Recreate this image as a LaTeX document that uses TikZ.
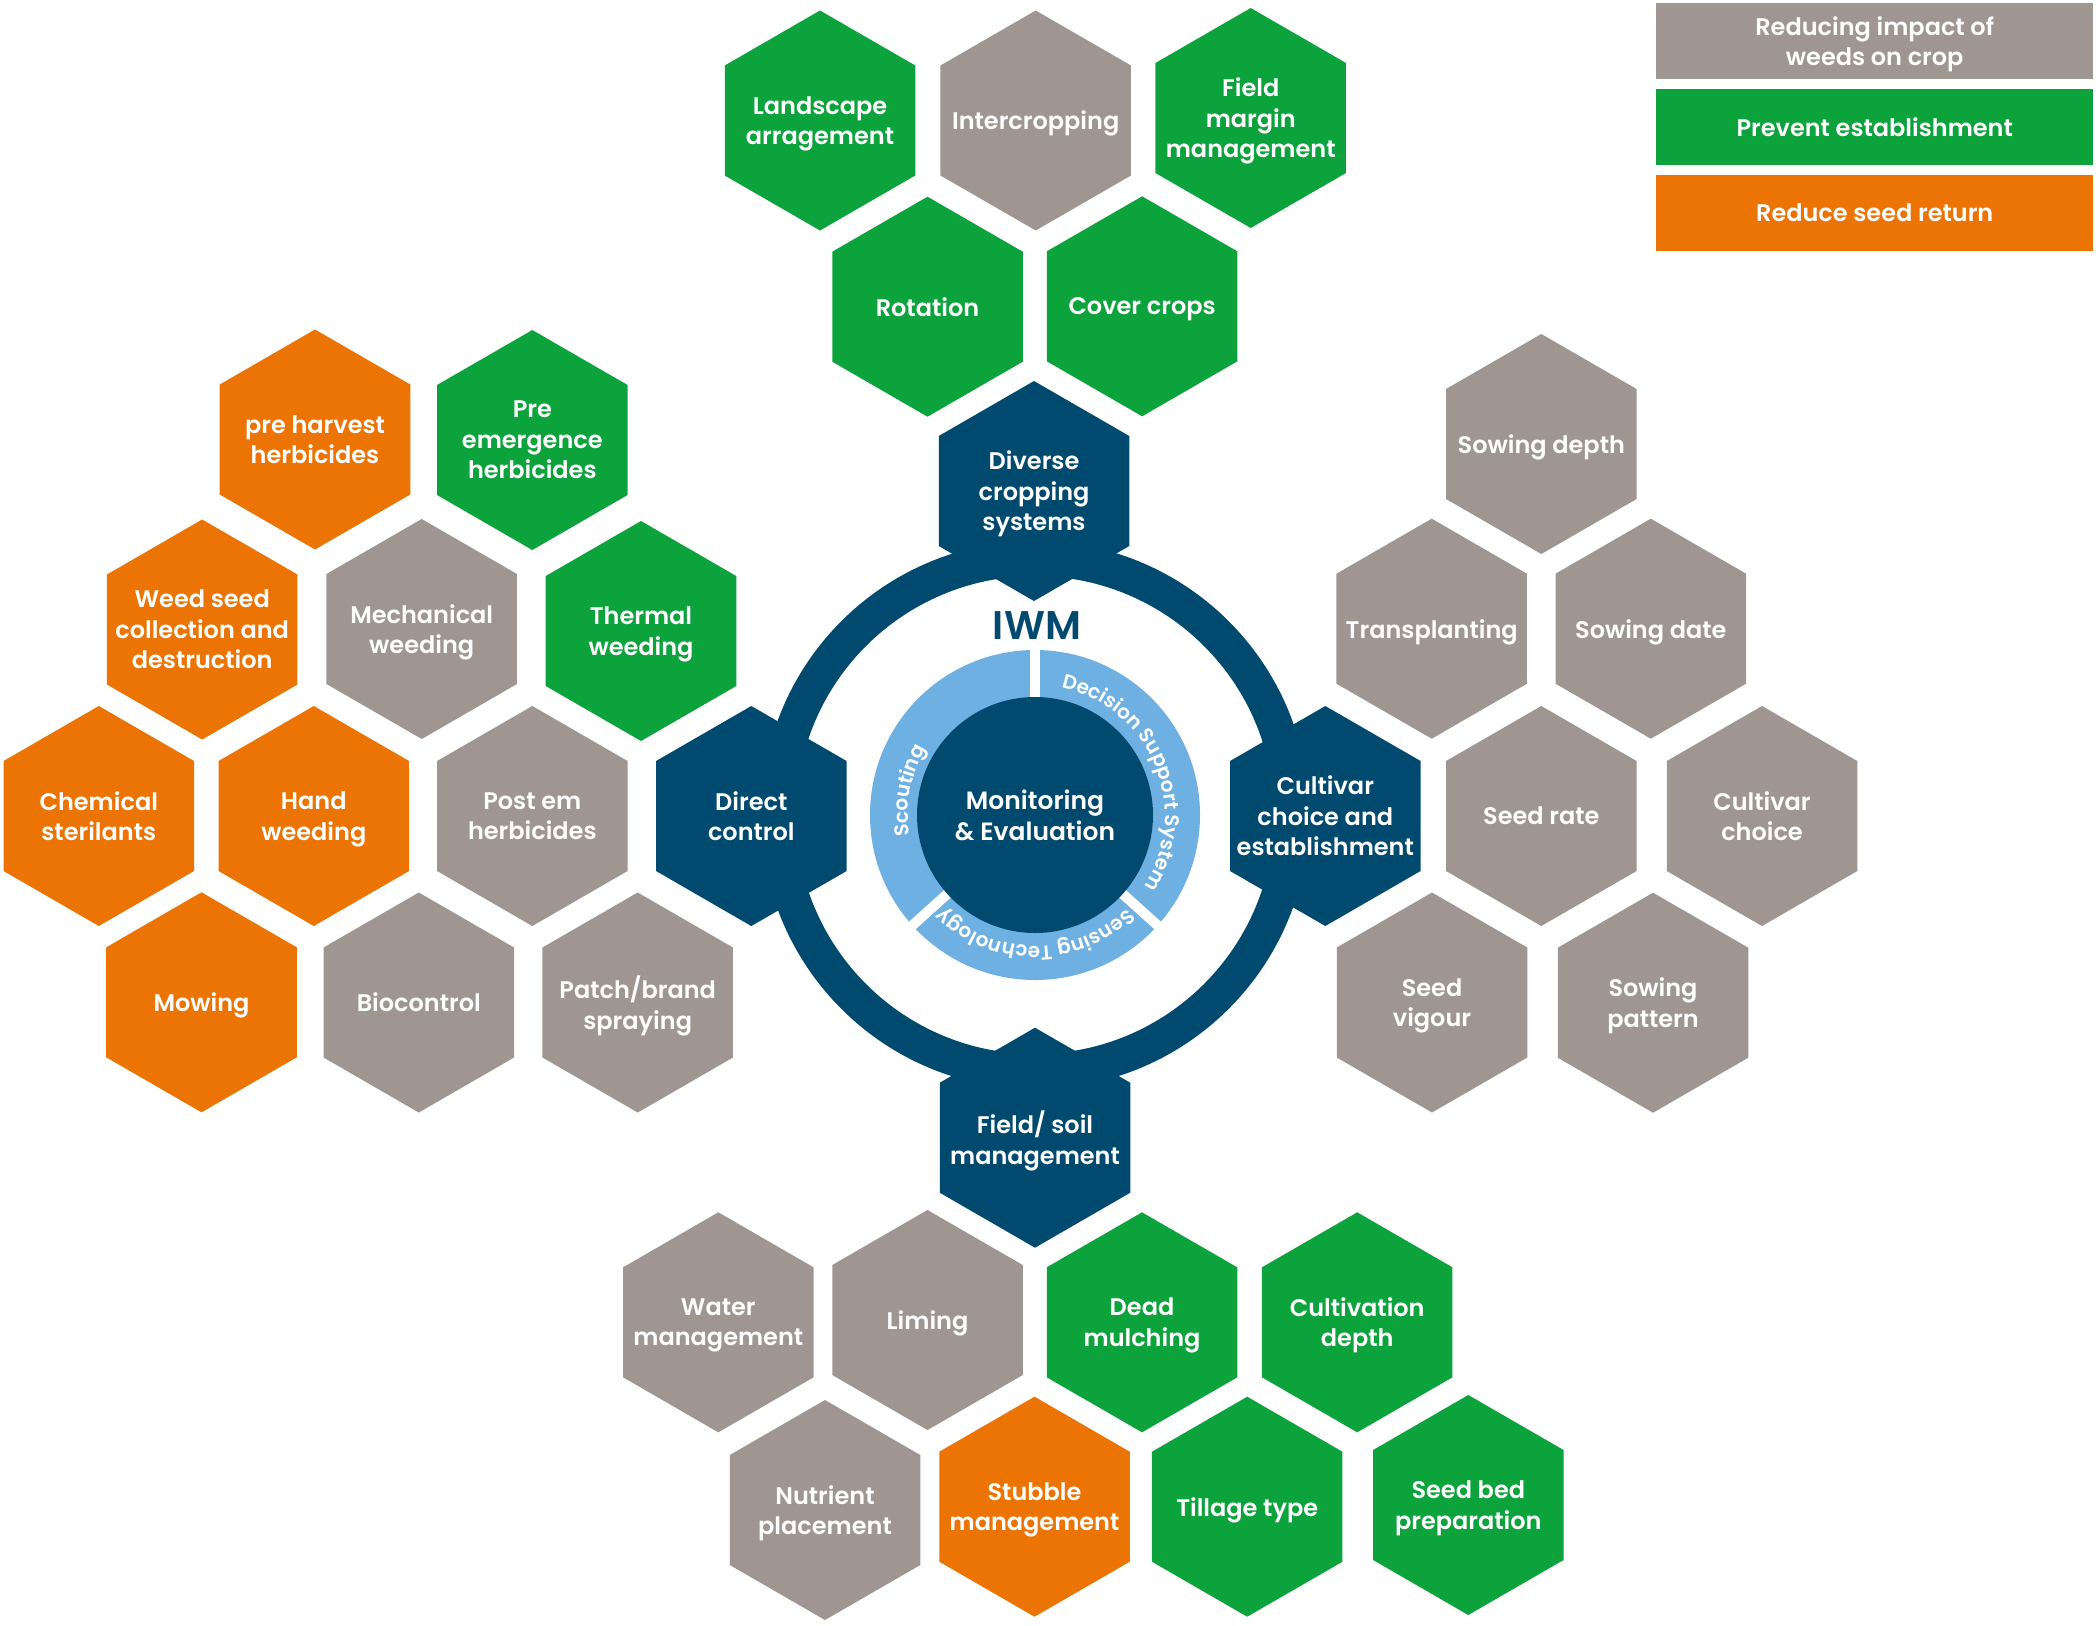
\documentclass[tikz,border=0pt]{standalone}
\usepackage{fontspec}
\setmainfont{Poppins}[BoldFont={* SemiBold}]
\usetikzlibrary{decorations.text}
\definecolor{hgray}{RGB}{159,150,145}
\definecolor{hgreen}{RGB}{13,163,60}
\definecolor{horange}{RGB}{236,116,4}
\definecolor{hnavy}{RGB}{0,74,112}
\definecolor{hlight}{RGB}{110,176,226}
\tikzset{
  hexlabel/.style={text=white, align=center, inner sep=0pt, text depth=0pt, font=\fontsize{24}{30.5}\selectfont\bfseries},
  legbox/.style={text=white, align=center, inner sep=0pt, text depth=0pt, minimum width=437pt, minimum height=75.7pt, font=\fontsize{24}{30.5}\selectfont\bfseries},
  gapline/.style={white, line width=10pt},
  ringtext/.style={decorate, decoration={text along path, text align=center, text color=white}}
}
\newcommand\hexcell[5]{%
  \fill[#4] (#2,#3) +(0,-110) -- +(95.26,-55) -- +(95.26,55) -- +(0,110) -- +(-95.26,55) -- +(-95.26,-55) -- cycle;
  \node[hexlabel] (#1) at (#2,#3) {#5};
}
\begin{document}
\begin{tikzpicture}[x=1pt,y=-1pt]
\useasboundingbox (0,0) rectangle (2100,1625);
\fill[white] (0,0) rectangle (2100,1625);
\coordinate (c) at (1035,815);
% outer ring
\fill[hnavy, even odd rule] (c) circle[radius=274] (c) circle[radius=239];
% light ring
\fill[hlight] (c) circle[radius=165];
\draw[gapline] (c) ++(-90:105) -- ++(-90:70);
\draw[gapline] (c) ++(42:105) -- ++(42:70);
\draw[gapline] (c) ++(138:105) -- ++(138:70);
\fill[hnavy] (c) circle[radius=118];
\node[text=white, align=center, inner sep=0pt, text depth=0pt, font=\fontsize{25}{31}\selectfont\bfseries] (mon) at (1035,815) {Monitoring\\\& Evaluation};
\node[text=hnavy, inner sep=0pt, font=\fontsize{40}{40}\selectfont\bfseries] (iwm) at (1037,626) {IWM};
\path[ringtext, decoration={text={|\fontsize{20}{20}\selectfont\bfseries|Decision Support System}}]
  (c) ++(-87.5:130) arc[start angle=-87.5, end angle=42.5, radius=130];
\path[ringtext, decoration={text={|\fontsize{20}{20}\selectfont\bfseries|Sensing Technology}}]
  (c) ++(45:131) arc[start angle=45, end angle=135, radius=131];
\path[ringtext, decoration={text={|\fontsize{20}{20}\selectfont\bfseries|Scouting}}]
  (c) ++(164:127) arc[start angle=164, end angle=218, radius=127];
% top group
\hexcell{land}{820}{120.5}{hgreen}{Landscape\\arragement}
\hexcell{inter}{1035.7}{120.5}{hgray}{Intercropping}
\hexcell{fieldm}{1250.7}{118}{hgreen}{Field\\margin\\management}
\hexcell{rot}{927.5}{306.7}{hgreen}{Rotation}
\hexcell{cover}{1142.1}{306.3}{hgreen}{Cover crops}
\hexcell{divers}{1034}{491}{hnavy}{Diverse\\cropping\\systems}
% left group
\hexcell{preh}{315}{439.5}{horange}{pre harvest\\herbicides}
\hexcell{preem}{532.3}{440}{hgreen}{Pre\\emergence\\herbicides}
\hexcell{weedseed}{202.2}{629.5}{horange}{Weed seed\\collection and\\destruction}
\hexcell{mech}{421.7}{629}{hgray}{Mechanical\\weeding}
\hexcell{therm}{641}{631}{hgreen}{Thermal\\weeding}
\hexcell{chem}{98.8}{816}{horange}{Chemical\\sterilants}
\hexcell{hand}{313.8}{816}{horange}{Hand\\weeding}
\hexcell{postem}{532.3}{816}{hgray}{Post em\\herbicides}
\hexcell{direct}{751.3}{816}{hnavy}{Direct\\control}
\hexcell{mow}{201.5}{1002.3}{horange}{Mowing}
\hexcell{bio}{418.8}{1002.5}{hgray}{Biocontrol}
\hexcell{patch}{637.7}{1002.5}{hgray}{Patch/brand\\spraying}
% right group
\hexcell{sdepth}{1541.3}{444}{hgray}{Sowing depth}
\hexcell{transp}{1431.7}{628.7}{hgray}{Transplanting}
\hexcell{sdate}{1650.8}{628.7}{hgray}{Sowing date}
\hexcell{cultest}{1325.3}{816}{hnavy}{Cultivar\\choice and\\establishment}
\hexcell{srate}{1541.3}{816}{hgray}{Seed rate}
\hexcell{cultch}{1762}{816}{hgray}{Cultivar\\choice}
\hexcell{svig}{1432}{1002.5}{hgray}{Seed\\vigour}
\hexcell{spat}{1653}{1002.7}{hgray}{Sowing\\pattern}
% bottom group
\hexcell{fsoil}{1035}{1137.7}{hnavy}{Field/ soil\\management}
\hexcell{water}{718.3}{1322.3}{hgray}{Water\\management}
\hexcell{lime}{927.5}{1320}{hgray}{Liming}
\hexcell{dead}{1142}{1322.3}{hgreen}{Dead\\mulching}
\hexcell{cdepth}{1357.2}{1322.3}{hgreen}{Cultivation\\depth}
\hexcell{nutr}{825}{1510}{hgray}{Nutrient\\placement}
\hexcell{stub}{1034.5}{1506.7}{horange}{Stubble\\management}
\hexcell{till}{1247.2}{1506.7}{hgreen}{Tillage type}
\hexcell{sbed}{1468.3}{1505}{hgreen}{Seed bed\\preparation}
% legend
\node[legbox, fill=hgray] (leg1) at (1874.7,41.2) {Reducing impact of\\weeds on crop};
\node[legbox, fill=hgreen] (leg2) at (1874.7,127.2) {Prevent establishment};
\node[legbox, fill=horange] (leg3) at (1874.7,212.9) {Reduce seed return};
\end{tikzpicture}
\end{document}
